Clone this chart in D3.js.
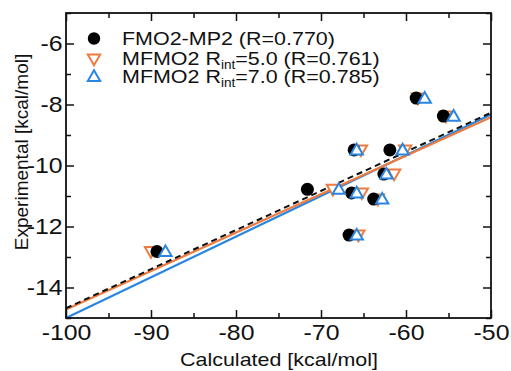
<!DOCTYPE html>
<html>
<head>
<meta charset="utf-8">
<script src="https://cdn.jsdelivr.net/npm/d3@7"></script>
<style>
  html, body { margin: 0; padding: 0; background: #fff; }
  text { font-family: "Liberation Sans", Arial, Helvetica, sans-serif; fill: #111; }
</style>
</head>
<body>
<div id="chart"></div>
<script>
// experimental binding energies (shared by every series)
const experimental = [-12.82, -7.79, -8.38, -9.49, -9.49, -10.28, -10.78, -10.90, -11.10, -12.28];
// calculated values, per method
const calcFMO2 = [-89.3, -58.8, -55.6, -66.1, -61.9, -62.6, -71.6, -66.4, -63.8, -66.7];
const calcR5   = [-90.0, -58.6, -55.3, -65.3, -60.1, -61.4, -68.6, -65.2, -63.3, -65.6];
const calcR7   = [-88.3, -57.8, -54.4, -65.8, -60.4, -62.3, -67.9, -65.8, -62.8, -65.8];
// regression lines (end points)
const fitFMO2 = [[-100, -14.68], [-50, -8.27]];
const fitR5   = [[-100, -14.72], [-50, -8.42]];
const fitR7   = [[-100, -15.00], [-50, -8.33]];

const xMajor = [-100, -90, -80, -70, -60, -50];
const xMinor = [-95, -85, -75, -65, -55];
const yMajor = [-14, -12, -10, -8, -6];
const yMinor = [-15, -13, -11, -9, -7, -5];

const legendNames = [
  ['FMO2-MP2 (R=0.770)'],
  ['MFMO2 R', 'int', '=5.0 (R=0.761)'],
  ['MFMO2 R', 'int', '=7.0 (R=0.785)']
];

const width = 511, height = 371;
const orange = '#ee7b3f', blue = '#2a86e0';
const stretch = 'scale(1.13,1)';

const svg = d3.select('#chart').append('svg')
  .attr('width', width)
  .attr('height', height);

const x = d3.scaleLinear().domain([-100, -50]).range([66, 491]);
const y = d3.scaleLinear().domain([-15, -5]).range([318, 13]);

// regression lines
const line = d3.line().x(d => x(d[0])).y(d => y(d[1]));
svg.append('path').datum(fitR7)
  .attr('fill', 'none').attr('stroke', blue).attr('stroke-width', 2.2).attr('d', line);
svg.append('path').datum(fitR5)
  .attr('fill', 'none').attr('stroke', orange).attr('stroke-width', 2.2).attr('d', line);
svg.append('path').datum(fitFMO2)
  .attr('fill', 'none').attr('stroke', '#111').attr('stroke-width', 2)
  .attr('stroke-dasharray', '6 4').attr('d', line);

// markers
const tri = d3.symbol().type(d3.symbolTriangle).size(66);

svg.append('g').selectAll('path')
  .data(calcR5.map((c, i) => [c, experimental[i]]))
  .join('path')
  .attr('d', tri)
  .attr('transform', d => `translate(${x(d[0])},${y(d[1]) - 1}) rotate(180)`)
  .attr('fill', '#fff').attr('stroke', orange).attr('stroke-width', 2);

svg.append('g').selectAll('circle')
  .data(calcFMO2.map((c, i) => [c, experimental[i]]))
  .join('circle')
  .attr('cx', d => x(d[0])).attr('cy', d => y(d[1]))
  .attr('r', 6.5).attr('fill', '#000');

svg.append('g').selectAll('path')
  .data(calcR7.map((c, i) => [c, experimental[i]]))
  .join('path')
  .attr('d', tri)
  .attr('transform', d => `translate(${x(d[0])},${y(d[1]) + 1})`)
  .attr('fill', '#fff').attr('stroke', blue).attr('stroke-width', 2);

// frame
svg.append('rect')
  .attr('x', 66).attr('y', 13).attr('width', 425).attr('height', 305)
  .attr('fill', 'none').attr('stroke', '#111').attr('stroke-width', 1.8);

function ticks(g) {
  g.select('.domain').remove();
  g.selectAll('line').attr('stroke', '#111').attr('stroke-width', 1.5);
}

// bottom axis
svg.append('g').attr('transform', 'translate(0,318)')
  .call(d3.axisBottom(x).tickValues(xMajor).tickSize(-8).tickPadding(6).tickFormat(d => String(d)))
  .call(ticks)
  .call(g => g.selectAll('text').attr('font-size', 22).attr('transform', stretch));
svg.append('g').attr('transform', 'translate(0,318)')
  .call(d3.axisBottom(x).tickValues(xMinor).tickSize(-5).tickFormat(''))
  .call(ticks);
// top axis
svg.append('g').attr('transform', 'translate(0,13)')
  .call(d3.axisTop(x).tickValues(xMajor).tickSize(-8).tickFormat(''))
  .call(ticks);
svg.append('g').attr('transform', 'translate(0,13)')
  .call(d3.axisTop(x).tickValues(xMinor).tickSize(-5).tickFormat(''))
  .call(ticks);
// left axis
svg.append('g').attr('transform', 'translate(66,0)')
  .call(d3.axisLeft(y).tickValues(yMajor).tickSize(-8).tickPadding(3).tickFormat(d => String(d)))
  .call(ticks)
  .call(g => g.selectAll('text').attr('font-size', 22).attr('transform', stretch));
svg.append('g').attr('transform', 'translate(66,0)')
  .call(d3.axisLeft(y).tickValues(yMinor).tickSize(-5).tickFormat(''))
  .call(ticks);
// right axis
svg.append('g').attr('transform', 'translate(491,0)')
  .call(d3.axisRight(y).tickValues(yMajor).tickSize(-8).tickFormat(''))
  .call(ticks);
svg.append('g').attr('transform', 'translate(491,0)')
  .call(d3.axisRight(y).tickValues(yMinor).tickSize(-5).tickFormat(''))
  .call(ticks);

// axis titles
svg.append('text')
  .attr('transform', `translate(279,366) ${stretch}`)
  .attr('text-anchor', 'middle').attr('font-size', 19)
  .text('Calculated [kcal/mol]');
svg.append('text')
  .attr('transform', 'translate(28,152) rotate(-90)')
  .attr('text-anchor', 'middle').attr('font-size', 19)
  .text('Experimental [kcal/mol]');

// legend
const legend = svg.append('g');
const rows = [38.5, 58, 76.5];
legend.append('circle').attr('cx', 94).attr('cy', rows[0]).attr('r', 6.2).attr('fill', '#000');
legend.append('path').attr('d', tri)
  .attr('transform', `translate(94,${rows[1]}) rotate(180)`)
  .attr('fill', '#fff').attr('stroke', orange).attr('stroke-width', 2);
legend.append('path').attr('d', tri)
  .attr('transform', `translate(94,${rows[2] + 1})`)
  .attr('fill', '#fff').attr('stroke', blue).attr('stroke-width', 2);

legendNames.forEach((parts, i) => {
  const t = legend.append('text')
    .attr('transform', `translate(122,${rows[i] + 6.5}) ${stretch}`)
    .attr('font-size', 19);
  t.append('tspan').text(parts[0]);
  if (parts.length > 1) {
    t.append('tspan').attr('font-size', 12).attr('dy', 4).text(parts[1]);
    t.append('tspan').attr('dy', -4).text(parts[2]);
  }
});
</script>
</body>
</html>
